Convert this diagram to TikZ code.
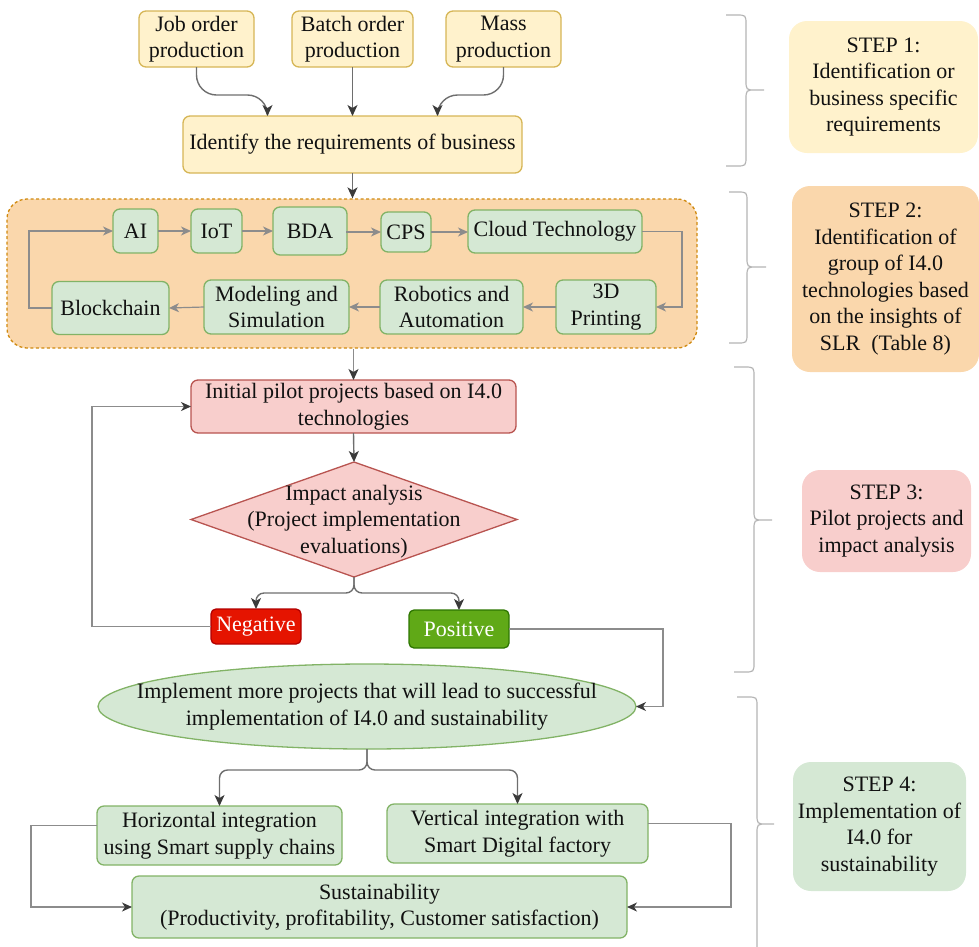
\documentclass[tikz,border=0pt]{standalone}
\usepackage{fontspec}
\setmainfont{Liberation Serif}
\usetikzlibrary{arrows.meta,shapes.geometric}
\definecolor{yfill}{HTML}{FFF2CC}
\definecolor{ydraw}{HTML}{D6B656}
\definecolor{ofill}{HTML}{FAD7AC}
\definecolor{odraw}{HTML}{D08A10}
\definecolor{rfill}{HTML}{F8CECC}
\definecolor{rdraw}{HTML}{B85450}
\definecolor{gfill}{HTML}{D5E8D4}
\definecolor{gdraw}{HTML}{82B366}
\definecolor{negfill}{HTML}{E51400}
\definecolor{negdraw}{HTML}{B20000}
\definecolor{posfill}{HTML}{60A917}
\definecolor{posdraw}{HTML}{2D7600}
\definecolor{edgec}{HTML}{6E6E6E}
\definecolor{edgel}{HTML}{8C8C8C}
\definecolor{headc}{HTML}{3A3A3A}
\definecolor{bracec}{HTML}{B4B4B4}
\definecolor{txt}{HTML}{111111}
\newcommand{\mybrace}[6]{\draw[brace] (#1,#4) -- ({#2-10},#4) .. controls (#2,#4) .. (#2,{#4+10}) -- (#2,{#5-10}) .. controls (#2,#5) .. ({#2+10},#5) -- (#3,#5) ({#2+10},#5) .. controls (#2,#5) .. (#2,{#5+10}) -- (#2,{#6-10}) .. controls (#2,#6) .. ({#2-10},#6) -- (#1,#6);}
\begin{document}
\begin{tikzpicture}[x=1pt,y=-1pt, font=\fontsize{22}{26.5}\selectfont, text=txt,
 box/.style={rectangle, rounded corners=7pt, line width=1.3pt, inner sep=0pt, outer sep=0pt, align=center},
 ybox/.style={box, fill=yfill, draw=ydraw},
 gbox/.style={box, fill=gfill, draw=gdraw},
 rbox/.style={box, fill=rfill, draw=rdraw},
 stepbox/.style={rectangle, rounded corners=18pt, inner sep=0pt, align=center, draw=none},
 sz/.style n args={2}{minimum width=#1pt, minimum height=#2pt},
 arr/.style={draw=edgec, line width=1.4pt, -{Stealth[length=11pt,width=10pt,inset=3pt,color=headc]}},
 arrl/.style={draw=edgel, line width=1.2pt, -{Stealth[length=10pt,width=9pt,inset=3pt]}},
 arrd/.style={arrl, -{Stealth[length=10pt,width=9pt,inset=3pt,color=headc]}},
 brace/.style={draw=bracec, line width=1.2pt},
]
\useasboundingbox (0,0) rectangle (979,946);

% STEP 1
\node[ybox, sz={115}{56}] (job) at (196.5,39) {Job order\\production};
\node[ybox, sz={121}{56}] (batch) at (352.5,39) {Batch order\\production};
\node[ybox, sz={115}{56}] (mass) at (503.5,39) {Mass\\production};
\node[ybox, sz={339}{57}] (idf) at (352.5,144.5) {Identify the requirements of business};

% STEP 2 container
\node[rectangle, rounded corners=20pt, fill=ofill, draw=odraw, line width=1.3pt, dash pattern=on 3pt off 2.5pt, sz={690}{149}] (cont) at (352,273.5) {};
\node[gbox, sz={45}{44}] (ai) at (135.5,231) {AI};
\node[gbox, sz={51}{44}] (iot) at (216.5,231) {IoT};
\node[gbox, sz={74}{48}] (bda) at (310,231) {BDA};
\node[gbox, sz={50}{40}] (cps) at (406,232) {CPS};
\node[gbox, sz={174}{43}] (cloud) at (555,231.5) {Cloud Technology};
\node[gbox, sz={117}{53}] (block) at (110.5,308) {Blockchain};
\node[gbox, sz={145}{54}] (model) at (276.5,307) {Modeling and\\Simulation};
\node[gbox, sz={143}{54}] (robot) at (451.5,307) {Robotics and\\Automation};
\node[gbox, sz={100}{54}] (print) at (606,307) {3D\\Printing};

% STEP 3
\node[rbox, sz={325}{53}] (init) at (353.5,406.5) {Initial pilot projects based on I4.0\\technologies};
\node[diamond, fill=rfill, draw=rdraw, line width=1.3pt, inner sep=0pt, outer sep=0pt, sz={326}{115}] (dia) at (354,519.5) {};
\node[align=center, inner sep=0pt] (diatxt) at ([yshift=-2pt]dia.center) {Impact analysis\\(Project implementation\\evaluations)};
\node[box, fill=negfill, draw=negdraw, text=white, rounded corners=5pt, sz={90}{35}] (neg) at (256,626.5) {Negative};
\node[box, fill=posfill, draw=posdraw, text=white, rounded corners=5pt, sz={100}{38}] (pos) at (459,629) {Positive};

% STEP 4
\node[ellipse, fill=gfill, draw=gdraw, line width=1.3pt, inner sep=0pt, outer sep=0pt, sz={538}{85}] (ell) at (367,706.5) {};
\node[align=center, inner sep=0pt] (elltxt) at (ell.center) {Implement more projects that will lead to successful\\implementation of I4.0 and sustainability};
\node[gbox, sz={245}{59}] (horiz) at (219.5,835.5) {Horizontal integration\\using Smart supply chains};
\node[gbox, sz={261}{59}] (vert) at (517.5,833.5) {Vertical integration with\\Smart Digital factory};
\node[gbox, sz={495}{62}] (sus) at (379.5,907) {Sustainability\\(Productivity, profitability, Customer satisfaction)};

% step labels
\node[stepbox, fill=yfill, sz={189}{132}] (s1) at (883.5,87) {STEP 1:\\Identification or\\business specific\\requirements};
\node[stepbox, fill=ofill, sz={187}{186}] (s2) at (885.5,279) {STEP 2:\\Identification of\\group of I4.0\\technologies based\\on the insights of\\SLR\ \ (Table 8)};
\node[stepbox, fill=rfill, sz={169}{102}] (s3) at (886.5,521) {STEP 3:\\Pilot projects and\\impact analysis};
\node[stepbox, fill=gfill, sz={173}{129}] (s4) at (879.5,826.5) {STEP 4:\\Implementation of\\I4.0 for\\sustainability};

% connectors step 1
\draw[arr, rounded corners=20pt] (job.south) -- ++(0,28) -| ([xshift=-85pt]idf.north);
\draw[arr] (batch.south) -- (idf.north);
\draw[arr, rounded corners=20pt] (mass.south) -- ++(0,28) -| ([xshift=85pt]idf.north);
\draw[arr] (idf.south) -- (idf.south |- cont.north);

% connectors step 2
\draw[arrl] (ai.east) -- (iot.west);
\draw[arrl] (iot.east) -- (bda.west);
\draw[arrl] (bda.east) -- (cps.west -| bda.east) -- (cps.west);
\draw[arrl] (cps.east) -- (cloud.west |- cps.east);
\draw[arrl] (cloud.east) -- ++(40,0) |- (print.east);
\draw[arrl] (print.west) -- (robot.east);
\draw[arrl] (robot.west) -- (model.east);
\draw[arrl] (model.west) -- (block.west -| block.east);
\draw[arrl] (block.west) -- ++(-23,0) |- (ai.west);
\draw[arr, draw=edgel] (cont.south -| init.north) -- (init.north);

% connectors step 3
\draw[arr] (init.south) -- (dia.north);
\draw[arr, rounded corners=8pt] (dia.south) -- ++(0,16) -| (neg.north);
\draw[arr, rounded corners=8pt] (dia.south) -- ++(0,16) -| (pos.north);
\draw[arrd] (neg.west) -- ++(-119,0) |- (init.west);
\draw[arrd] (pos.east) -- ++(154,0) |- (ell.east);

% connectors step 4
\draw[arr, rounded corners=8pt] (ell.south) -- ++(0,21) -| (horiz.north);
\draw[arr, rounded corners=8pt] (ell.south) -- ++(0,21) -| (vert.north);
\draw[arrd] ([yshift=10pt]horiz.west) -- ++(-66,0) |- (sus.west);
\draw[arrd] ([yshift=10pt]vert.east) -- ++(83,0) |- (sus.east);

% braces
\mybrace{726}{746}{764}{15}{90}{166}
\mybrace{729}{747}{766}{192}{267}{343}
\mybrace{734}{754}{772}{367}{520}{672}
\mybrace{737}{757}{774}{697}{824}{960}
\end{tikzpicture}
\end{document}
